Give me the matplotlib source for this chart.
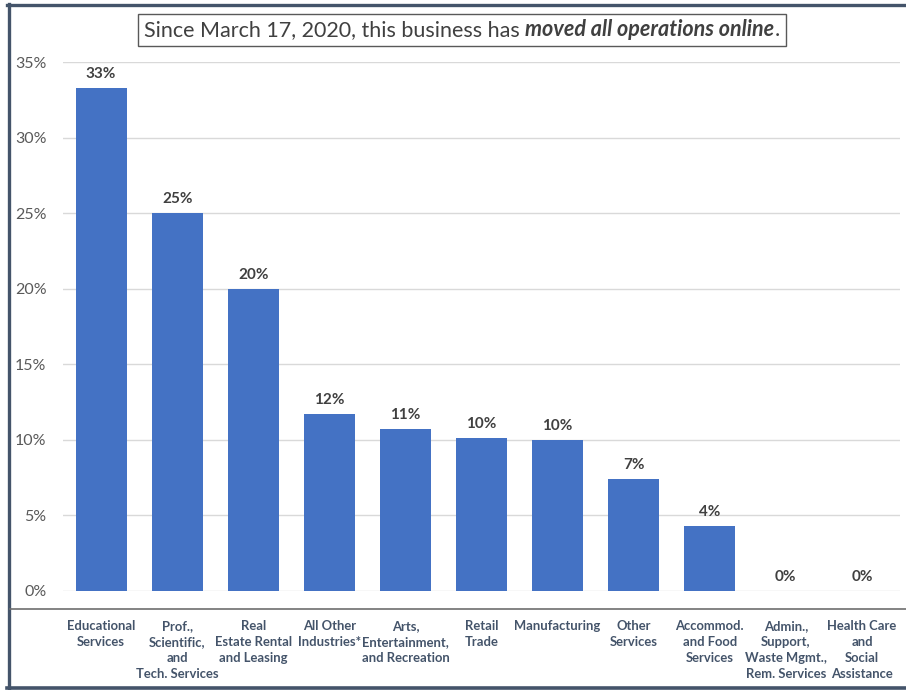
import matplotlib
matplotlib.use("Agg")
import matplotlib.pyplot as plt
from matplotlib.patches import Rectangle
from matplotlib.lines import Line2D

# Share of businesses that moved all operations online, by industry
categories = [
    "Educational\nServices",
    "Prof.,\nScientific,\nand\nTech. Services",
    "Real\nEstate Rental\nand Leasing",
    "All Other\nIndustries*",
    "Arts,\nEntertainment,\nand Recreation",
    "Retail\nTrade",
    "Manufacturing",
    "Other\nServices",
    "Accommod.\nand Food\nServices",
    "Admin.,\nSupport,\nWaste Mgmt.,\nRem. Services",
    "Health Care\nand\nSocial\nAssistance",
]
values = [33.3, 25.0, 20.0, 11.7, 10.7, 10.1, 10.0, 7.4, 4.3, 0.0, 0.0]
yticks = [0, 5, 10, 15, 20, 25, 30, 35]
ytick_labels = [f"{t}%" for t in yticks]

title_parts = [
    ("Since March 17, 2020, this business has ", "normal", "normal"),
    ("moved all operations online", "bold", "italic"),
    (".", "normal", "normal"),
]

FONT = ["Lato", "DejaVu Sans"]
plt.rcParams["font.family"] = FONT

W, H, DPI = 906, 690, 100
fig = plt.figure(figsize=(W / DPI, H / DPI), dpi=DPI)
fig.patch.set_facecolor("white")

def fx(px):
    return px / W

def fy(py):
    return 1 - py / H

ax = fig.add_axes([fx(63), fy(591), fx(900) - fx(63), fy(62) - fy(591)])
x = list(range(len(categories)))
bars = ax.bar(x, values, width=0.67, color="#4472C4", zorder=3)

ax.set_xlim(-0.5, len(categories) - 0.5)
ax.set_ylim(0, 35)
ax.set_yticks(yticks)
ax.set_yticklabels(ytick_labels, fontsize=11.5, color="#595959")
ax.set_xticks(x)
ax.set_xticklabels(categories, fontsize=9.4, fontweight="bold",
                   color="#44546A", linespacing=1.39, va="top")
ax.tick_params(axis="x", length=0, pad=21)
ax.tick_params(axis="y", length=0, pad=12)
ax.grid(axis="y", color="#D9D9D9", linewidth=1, zorder=0)
for s in ax.spines.values():
    s.set_visible(False)

for xi, v in zip(x, values):
    ax.annotate(f"{round(v):d}%", (xi, v), xytext=(0, 5), textcoords="offset points",
                ha="center", va="bottom", fontsize=11, fontweight="bold",
                color="#404040")

# Outer frame and separator
frame_c = "#44546A"
fig.add_artist(Line2D([fx(7), 1], [fy(4.5), fy(4.5)], color=frame_c, lw=2.4,
                      transform=fig.transFigure))
fig.add_artist(Line2D([fx(8.5), fx(8.5)], [fy(3.5), fy(688.5)], color=frame_c, lw=2.4,
                      transform=fig.transFigure))
fig.add_artist(Line2D([fx(7), 1], [fy(688), fy(688)], color=frame_c, lw=2.6,
                      transform=fig.transFigure))
fig.add_artist(Line2D([fx(10), 1], [fy(609), fy(609)], color="#6E6E6E", lw=1.2,
                      transform=fig.transFigure))

# Title with mixed styling inside a box
renderer = fig.canvas.get_renderer()
texts = []
for s, w, st in title_parts:
    t = fig.text(0, fy(30), s, fontsize=15.5, fontweight=w, fontstyle=st,
                 color="#404040", va="center", ha="left")
    texts.append(t)
widths = [t.get_window_extent(renderer).width for t in texts]
total = sum(widths)
start = 462 - total / 2
cur = start
for t, w in zip(texts, widths):
    t.set_x(fx(cur))
    cur += w
fig.add_artist(Rectangle((fx(start - 6), fy(46)), fx(total + 12), fy(14) - fy(46),
                         fill=False, edgecolor="#595959", lw=1.0,
                         transform=fig.transFigure))

fig.savefig("out.png", dpi=DPI, facecolor="white")
